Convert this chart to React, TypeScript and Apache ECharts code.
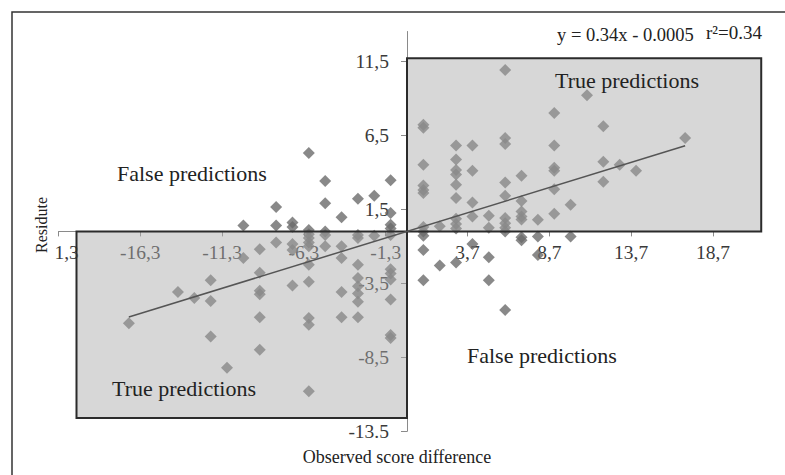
import React, { useEffect, useRef } from "react";
import * as echarts from "echarts";

const xTickValues = [-21.3, -16.3, -11.3, -6.3, -1.3, 3.7, 8.7, 13.7, 18.7];
const xTickLabels = ["-21,3", "-16,3", "-11,3", "-6,3", "-1,3", "3,7", "8,7", "13,7", "18,7"];
const yTickValues = [-13.5, -8.5, -3.5, 1.5, 6.5, 11.5];
const yTickLabels = ["-13.5", "-8,5", "-3,5", "1,5", "6,5", "11,5"];

// observed score difference (x) -> residues (y)
const scoreDiffs = [-17, -14, -13, -12, -11, -10, -9, -8, -7, -6, -5, -4, -3, -2, -1, 1, 2, 3, 4, 5, 6, 7, 8, 9, 10, 11, 12, 13, 14, 17];
const residues: number[][] = [
  [-6.2],
  [-4.1],
  [-4.5],
  [-3.3, -4.7, -7.1],
  [-9.2],
  [0.4, -1.8],
  [-1.2, -2.8, -4.0, -4.25, -5.8, -8.0],
  [1.65, 0.4, -0.75],
  [0.6, 0.3, -0.85, -1.25, -3.65],
  [5.3, 0.1, -0.2, -0.45, -0.75, -1.0, -2.25, -3.4, -5.85, -6.3, -10.8],
  [3.4, 1.9, 0, -0.25, -1.0],
  [0.95, -1.0, -1.8, -4.1, -5.8],
  [2.2, -0.25, -0.45, -2.25, -3.15, -3.7, -4.2, -4.75, -5.8],
  [2.4, -0.3],
  [3.45, 1.25, 0.45, 0.2, -0.25, -2.55, -2.85, -3.25, -4.6, -7.0, -7.2],
  [7.2, 7.0, 4.5, 3.1, 2.8, 2.6, 0.3, 0.0, -0.3, -1.25, -3.3],
  [0.35, -2.3],
  [5.8, 4.85, 4.15, 3.85, 3.15, 2.25, 0.85, 0.5, 0.2, -2.1],
  [5.8, 4.1, 1.95, 1.0, -0.85],
  [1.05, 0.25, -1.75, -3.3],
  [10.9, 6.3, 5.9, 3.3, 2.4, 0.9, 0.55, 0.25, 0, -5.3],
  [3.75, 2.05, 1.35, 1.0, 0.8, -0.4, -0.6],
  [0.78, -0.35, -1.6],
  [8.0, 5.8, 4.3, 4.1, 2.85, 1.2],
  [1.8, -0.35],
  [9.2],
  [7.1, 4.7, 3.35],
  [4.5],
  [4.1],
  [6.3],
];

const slope = 0.34;
const intercept = -0.0005;
const equationText = "y = 0.34x - 0.0005";
const r2Text = "r²=0.34";

// "true prediction" zones: [x1, y1, x2, y2] in data units
const trueZones = [
  [0, 0, 21.65, 11.7],
  [-20.2, -12.6, 0, 0],
];

const X_MIN = -21.3;
const X_MAX = 21.3;
const Y_MIN = -13.5;
const Y_MAX = 13.5;

const FONT = '"Liberation Serif", "Times New Roman", serif';

export default function App() {
  const ref = useRef<HTMLDivElement>(null);

  useEffect(() => {
    if (!ref.current) return;
    const chart = echarts.init(ref.current, undefined, { renderer: "svg" });

    const W = 785;
    const H = 475;
    const grid = { left: 58.5, right: 29.5, top: 31.5, bottom: 43.7 };
    const gw = W - grid.left - grid.right;
    const gh = H - grid.top - grid.bottom;
    // move axes onto the origin (axes cross at 0)
    const xAxisOffset = -((0 - Y_MIN) / (Y_MAX - Y_MIN)) * gh;
    const yAxisOffset = -((0 - X_MIN) / (X_MAX - X_MIN)) * gw;

    const points: [number, number][] = [];
    scoreDiffs.forEach((x, i) => residues[i].forEach((y) => points.push([x, y])));
    const xMin = Math.min(...scoreDiffs);
    const xMax = Math.max(...scoreDiffs);
    const lineData = [
      [xMin, slope * xMin + intercept],
      [xMax, slope * xMax + intercept],
    ];

    const xLabelOf = (v: number) => {
      const i = xTickValues.findIndex((t) => Math.abs(t - v) < 1e-6);
      return i >= 0 ? xTickLabels[i] : "";
    };
    const yLabelOf = (v: number) => {
      const i = yTickValues.findIndex((t) => Math.abs(t - v) < 1e-6);
      return i >= 0 ? yTickLabels[i] : "";
    };

    const annoText = (text: string, x: number, y: number, size = 22) => ({
      type: "text",
      x,
      y,
      z: 100,
      style: {
        text,
        fill: "#222",
        fontSize: size,
        fontFamily: FONT,
        textAlign: "left",
        textVerticalAlign: "middle",
      },
    });

    chart.setOption({
      animation: false,
      backgroundColor: "#fff",
      grid: { ...grid, containLabel: false },
      xAxis: {
        type: "value",
        min: X_MIN,
        max: X_MAX,
        interval: 5,
        position: "bottom",
        offset: xAxisOffset,
        axisLine: { onZero: false, lineStyle: { color: "#8a8a8a", width: 1 } },
        axisTick: { show: true, inside: false, length: 5, customValues: xTickValues, lineStyle: { color: "#8a8a8a" } },
        axisLabel: {
          customValues: xTickValues,
          formatter: (v: number) => xLabelOf(v),
          color: "#3a3a3a",
          fontSize: 19.5,
          fontFamily: FONT,
          margin: 11,
        },
        splitLine: { show: false },
      },
      yAxis: {
        type: "value",
        min: Y_MIN,
        max: Y_MAX,
        interval: 5,
        position: "left",
        offset: yAxisOffset,
        axisLine: { onZero: false, lineStyle: { color: "#8a8a8a", width: 1 } },
        axisTick: { show: true, inside: false, length: 6, customValues: yTickValues, lineStyle: { color: "#8a8a8a" } },
        axisLabel: {
          customValues: yTickValues,
          formatter: (v: number) => yLabelOf(v),
          color: "#3a3a3a",
          fontSize: 19.5,
          fontFamily: FONT,
          margin: 18,
        },
        splitLine: { show: false },
      },
      graphic: [
        {
          type: "rect",
          z: 50,
          shape: { x: 12, y: 12, width: 800, height: 500 },
          style: { fill: "none", stroke: "#333", lineWidth: 1.5 },
        },
        {
          type: "rect",
          z: 90,
          shape: { x: 28, y: 238, width: 27, height: 28 },
          style: { fill: "#fff" },
        },
        {
          type: "text",
          x: 41,
          y: 225,
          rotation: Math.PI / 2,
          z: 100,
          style: {
            text: "Residute",
            fill: "#222",
            fontSize: 16,
            fontFamily: FONT,
            textAlign: "center",
            textVerticalAlign: "middle",
          },
        },
        {
          type: "text",
          x: 397,
          y: 457,
          z: 100,
          style: {
            text: "Observed score difference",
            fill: "#222",
            fontSize: 18,
            fontFamily: FONT,
            textAlign: "center",
            textVerticalAlign: "middle",
          },
        },
        annoText(equationText, 557, 35, 18.5),
        annoText(r2Text, 706, 32, 19),
        annoText("True predictions", 555, 80),
        annoText("False predictions", 117, 173),
        annoText("True predictions", 112, 388),
        annoText("False predictions", 467, 355),
      ],
      series: [
        {
          type: "scatter",
          data: points,
          symbol: "diamond",
          symbolSize: 12,
          itemStyle: { color: "#6b6b6b" },
          z: 2,
          silent: true,
        },
        {
          type: "custom",
          data: trueZones,
          z: 3,
          silent: true,
          clip: false,
          renderItem: (params: any, api: any) => {
            const p1 = api.coord([api.value(0), api.value(3)]);
            const p2 = api.coord([api.value(2), api.value(1)]);
            return {
              type: "rect",
              shape: { x: p1[0], y: p1[1], width: p2[0] - p1[0], height: p2[1] - p1[1] },
              style: { fill: "rgba(170,170,170,0.47)", stroke: "#2b2b2b", lineWidth: 2 },
            };
          },
        },
        {
          type: "line",
          data: lineData,
          showSymbol: false,
          lineStyle: { color: "#555", width: 1.5 },
          z: 4,
          silent: true,
        },
      ],
    });

    return () => chart.dispose();
  }, []);

  return (
    <div
      ref={ref}
      style={{ position: "absolute", left: 0, top: 0, width: 785, height: 475 }}
    />
  );
}
